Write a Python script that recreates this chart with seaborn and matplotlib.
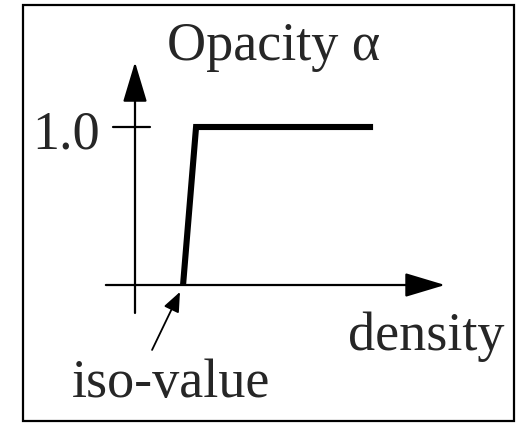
import matplotlib
matplotlib.use('Agg')
import matplotlib.pyplot as plt
import seaborn as sns
from matplotlib.patches import Rectangle

# transfer function: opacity vs density (schematic)
density = [0.155, 0.197, 0.768]
opacity = [0.0, 1.0, 1.0]
iso_value = 0.155
tick_labels = ['1.0']

sns.set_style('white')
plt.rcParams['font.family'] = ['Liberation Serif', 'DejaVu Serif']

fig = plt.figure(figsize=(5.17, 4.24), dpi=100)
ax = fig.add_axes([0, 0, 1, 1])
ax.set_xlim(-0.4355, 1.2323)
ax.set_ylim(-0.8797, 1.8038)
ax.set_axis_off()

    # the ramp
sns.lineplot(x=density, y=opacity, ax=ax, color='black', linewidth=4.4)
for ln in ax.lines:
    ln.set_solid_joinstyle('miter')
    ln.set_solid_capstyle('butt')

    # axes with arrow heads
big = '-|>,head_length=2.5,head_width=0.75'
ax.annotate('', xy=(1.0, 0), xytext=(-0.094, 0),
            arrowprops=dict(arrowstyle=big, lw=1.6, color='black',
                            shrinkA=0, shrinkB=0, mutation_scale=10))
ax.annotate('', xy=(0, 1.411), xytext=(0, -0.177),
            arrowprops=dict(arrowstyle=big, lw=1.6, color='black',
                            shrinkA=0, shrinkB=0, mutation_scale=10))

    # tick at opacity 1.0
ax.plot([-0.071, 0.048], [1.0, 1.0], color='black', lw=1.6)
ax.text(-0.113, 1.0 - 0.133, tick_labels[0], fontsize=39, ha='right', va='baseline')

    # labels
ax.text(0.103, 1.424, 'Opacity α', fontsize=39, ha='left', va='baseline')
ax.text(0.687, -0.411, 'density', fontsize=39, ha='left', va='baseline')
ax.text(-0.203, -0.709, 'iso-value', fontsize=39, ha='left', va='baseline')

    # pointer to the iso-value
ax.annotate('', xy=(iso_value - 0.01, -0.044), xytext=(0.055, -0.411),
            arrowprops=dict(arrowstyle='-|>,head_length=1.2,head_width=0.5', lw=1.3,
                            color='black', shrinkA=0, shrinkB=0, mutation_scale=10))

    # frame round the picture
fig.patches.append(Rectangle((23 / 517, 3 / 424), 491 / 517, 416 / 424,
                             transform=fig.transFigure, fill=False,
                             edgecolor='black', linewidth=1.6))

plt.savefig('out.png', dpi=100)
